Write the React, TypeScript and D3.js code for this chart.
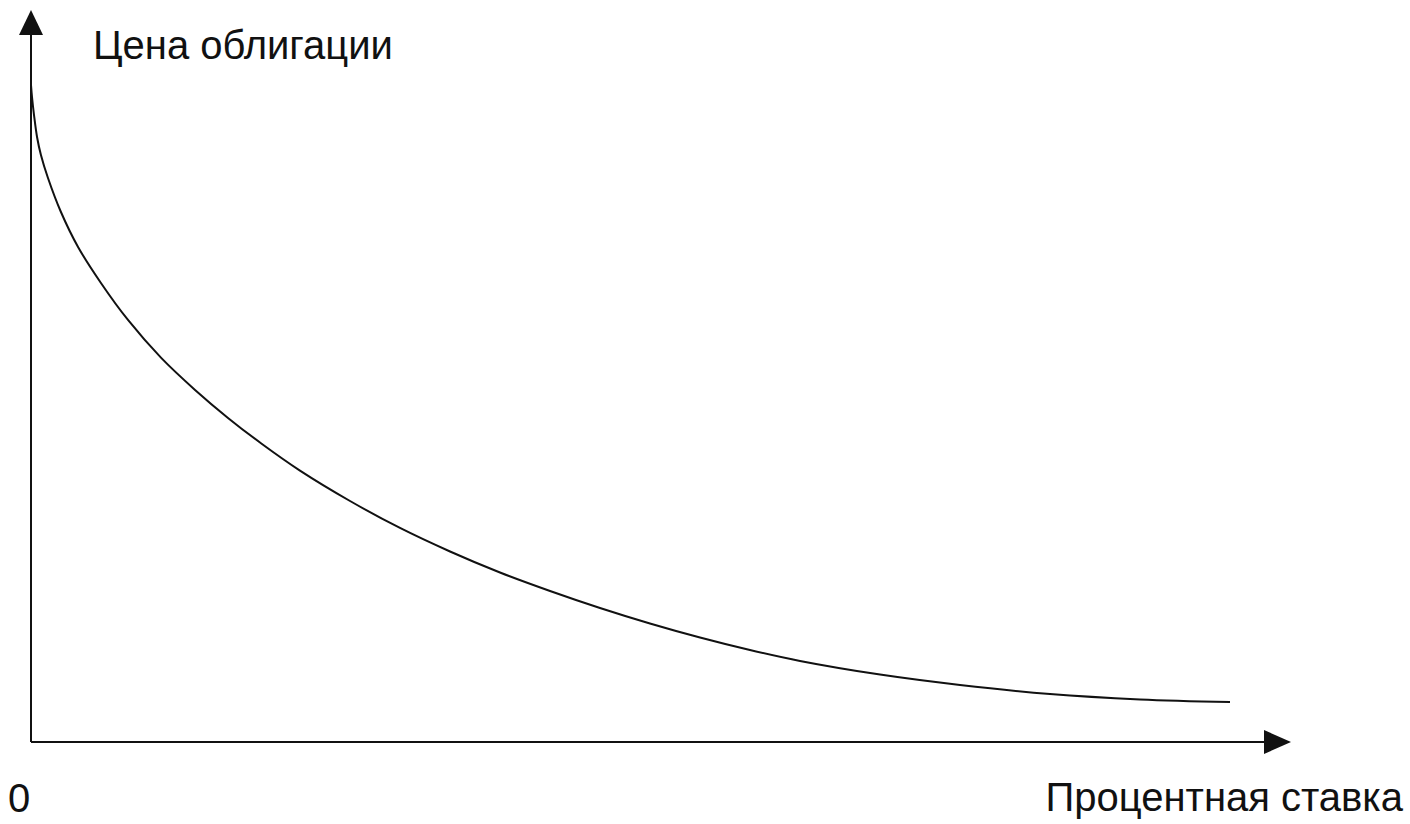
import React from "react";
import * as d3 from "d3";

// Interest rate (x) vs bond price (y)
const rates = [0, 0.008, 0.024, 0.048, 0.079, 0.135, 0.238, 0.374, 0.556, 0.771, 1.033, 1.304, 1.566, 1.828, 2.138, 2.536, 2.933, 3.331, 3.728, 4.126, 4.523, 4.92, 5.318, 5.715, 6.113, 6.749, 7.385, 8.1, 8.816, 9.531];
const prices = [90.37, 88.72, 86.24, 83.22, 80.74, 77.58, 72.9, 68.09, 63.14, 58.05, 52.87, 48.43, 44.58, 41.09, 37.33, 33.15, 29.44, 26.2, 23.31, 20.77, 18.43, 16.3, 14.37, 12.65, 11.14, 9.27, 7.84, 6.6, 5.86, 5.49];

const yTitle = "Цена облигации";
const xTitle = "Процентная ставка";
const originLabel = "0";

const W = 1410;
const H = 824;
const FONT = "'Liberation Sans', Arial, sans-serif";

export default function App() {
  const x = d3.scaleLinear().domain([0, 10]).range([31, 1289]);
  const y = d3.scaleLinear().domain([0, 100]).range([742, 15]);

  const pts: [number, number][] = rates.map((r, i) => [r, prices[i]]);
  const line = d3
    .line<[number, number]>()
    .x((d) => x(d[0]))
    .y((d) => y(d[1]))
    .curve(d3.curveCatmullRom.alpha(0.5));

  const ox = x(0);
  const oy = y(0);
  const stroke = "#111";

  return (
    <svg
      width={W}
      height={H}
      style={{ position: "absolute", left: 0, top: 0, background: "#fff" }}
    >
      <rect x={0} y={0} width={W} height={H} fill="#fff" />
      {/* y axis */}
      <line x1={ox} y1={oy} x2={ox} y2={32} stroke={stroke} strokeWidth={2} />
      <path d={`M${ox},10 L${ox - 12},35 L${ox + 12},35 Z`} fill={stroke} />
      {/* x axis */}
      <line x1={ox} y1={oy} x2={1266} y2={oy} stroke={stroke} strokeWidth={2} />
      <path d={`M1291,${oy} L1264,${oy - 12} L1264,${oy + 12} Z`} fill={stroke} />
      {/* curve */}
      <path d={line(pts) || ""} fill="none" stroke={stroke} strokeWidth={2} />
      {/* labels */}
      <text x={93} y={59} fontFamily={FONT} fontSize={40} fill={stroke}>
        {yTitle}
      </text>
      <text x={8} y={812} fontFamily={FONT} fontSize={40} fill={stroke}>
        {originLabel}
      </text>
      <text x={1403} y={811} fontFamily={FONT} fontSize={40} fill={stroke} textAnchor="end">
        {xTitle}
      </text>
    </svg>
  );
}
